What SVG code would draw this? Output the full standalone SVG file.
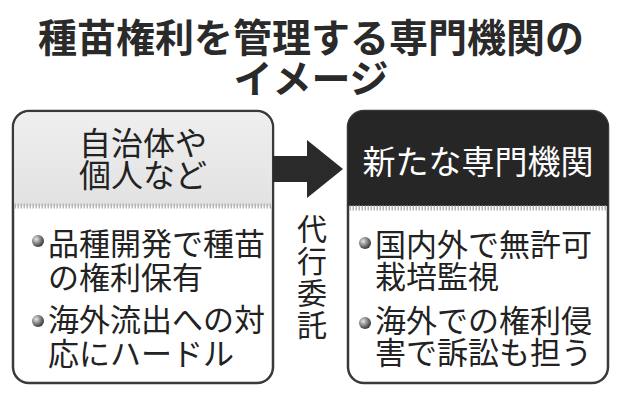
<svg xmlns="http://www.w3.org/2000/svg" width="622" height="400" viewBox="0 0 622 400">
<style>
.t{font-family:"Noto Sans CJK JP","Noto Sans CJK SC",sans-serif;fill:#222}
.title{font-size:39px;font-weight:bold;fill:#2a2a2a}
.hd{font-size:32px}
.hdw{font-size:33px;fill:#fff}
.b{font-size:31px}
.v{font-size:30px}
.box{fill:#fff;stroke:#3a3a3a;stroke-width:2.5}
.sep{stroke:#b5b5b5;stroke-width:5;stroke-dasharray:1.5 1.5}
</style>
<defs>
<radialGradient id="ball" cx="0.35" cy="0.35" r="0.7">
<stop offset="0" stop-color="#e8e8e8"/>
<stop offset="0.5" stop-color="#888"/>
<stop offset="1" stop-color="#333"/>
</radialGradient>
<linearGradient id="lg" x1="0" y1="0" x2="0" y2="1">
<stop offset="0" stop-color="#efefef"/>
<stop offset="1" stop-color="#e2e2e2"/>
</linearGradient>
</defs>
<rect width="622" height="400" fill="#fff"/>
<g id="title">
<text class="t title" x="311" y="52" text-anchor="middle">種苗権利を管理する専門機関の</text>
<text class="t title" x="311" y="93" text-anchor="middle">イメージ</text>
</g>
<g id="left">
<rect class="box" x="13" y="111" width="260" height="272" rx="16"/>
<path d="M14.25,206 V127 A15,15 0 0 1 29,112.25 H257 A15,15 0 0 1 271.75,127 V206 Z" fill="url(#lg)"/>
<line class="sep" x1="14.5" y1="206" x2="271.5" y2="206"/>
<text class="t hd" x="143" y="155" text-anchor="middle">自治体や</text>
<text class="t hd" x="143" y="187" text-anchor="middle">個人など</text>
<circle cx="38" cy="241" r="6" fill="url(#ball)"/>
<text class="t b" x="48" y="255">品種開発で種苗</text>
<text class="t b" x="48" y="289">の権利保有</text>
<circle cx="38" cy="321" r="6" fill="url(#ball)"/>
<text class="t b" x="48" y="331">海外流出への対</text>
<text class="t b" x="48" y="365">応にハードル</text>
</g>
<g id="right">
<rect class="box" x="348" y="111" width="260" height="272" rx="16"/>
<path d="M348,206 V127 A16,16 0 0 1 364,111 H592 A16,16 0 0 1 608,127 V206 Z" fill="#262626"/>
<line class="sep" x1="349.5" y1="208" x2="606.5" y2="208" stroke="#c0c0c0"/>
<text class="t hdw" x="478" y="174" text-anchor="middle">新たな専門機関</text>
<circle cx="365" cy="243" r="6" fill="url(#ball)"/>
<text class="t b" x="375" y="256">国内外で無許可</text>
<text class="t b" x="375" y="288">栽培監視</text>
<circle cx="365" cy="323" r="6" fill="url(#ball)"/>
<text class="t b" x="375" y="332">海外での権利侵</text>
<text class="t b" x="375" y="364">害で訴訟も担う</text>
</g>
<g id="connectors">
<polygon points="273,156 307,156 307,140 343,169 307,198 307,182 273,182" fill="#2a2a2a"/>
<text class="t v" x="312" y="240" text-anchor="middle">代</text>
<text class="t v" x="312" y="272" text-anchor="middle">行</text>
<text class="t v" x="312" y="304" text-anchor="middle">委</text>
<text class="t v" x="312" y="336" text-anchor="middle">託</text>
</g>
</svg>
